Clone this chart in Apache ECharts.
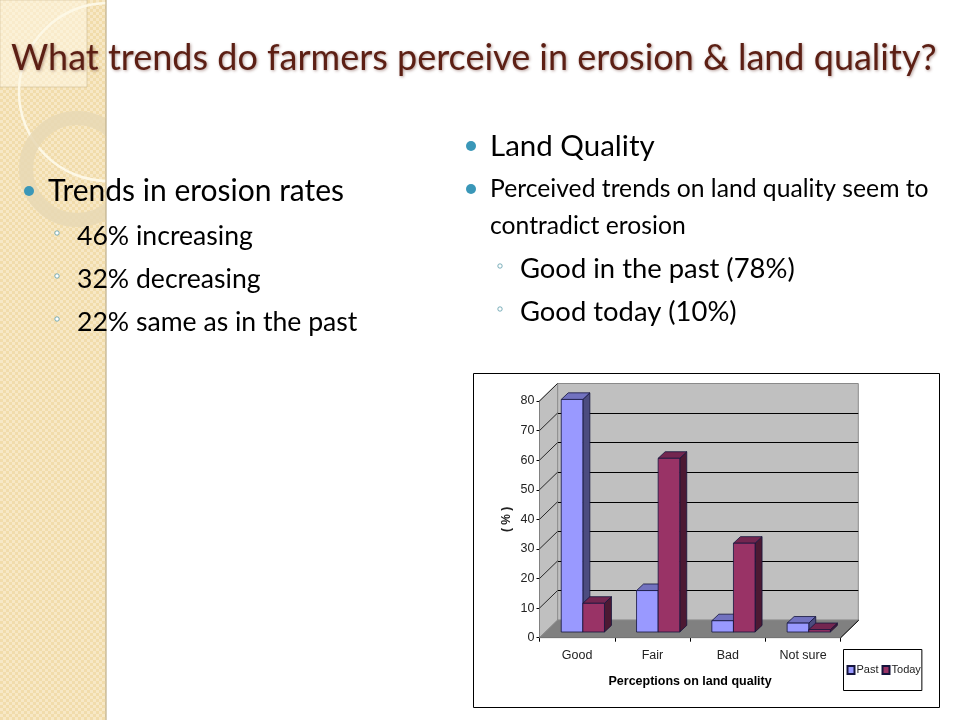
<!DOCTYPE html>
<html><head><meta charset="utf-8">
<style>html,body{margin:0;padding:0;background:#fff}#c{width:960px;height:720px}</style>
<script src="https://cdn.jsdelivr.net/npm/echarts@6/dist/echarts.min.js"></script>
</head><body><div id="c"></div>
<script>
const categories = ['Good','Fair','Bad','Not sure'];
const past = [78.6,14,3.8,3];
const today = [9.7,58.7,30,0.8];
const yTicks = [0,10,20,30,40,50,60,70,80];
const titleText = 'What trends do farmers perceive in erosion & land quality?';
const leftHead = 'Trends in erosion rates';
const leftItems = ['46% increasing','32% decreasing','22% same as in the past'];
const rightHead = 'Land Quality';
const rightPara = ['Perceived trends on land quality seem to','contradict erosion'];
const rightItems = ['Good in the past (78%)','Good today (10%)'];

const chart = echarts.init(document.getElementById('c'));
const FONT = 'Lato';
const SANS = '"Liberation Sans"';
const DX = 18, DY = 17.5;      // wall depth
const BX = 5.7, BY = 5.7;      // bar plane offset
const DEPX = 7, DEPY = 6.6;    // bar depth

function mk(){const c=document.createElement('canvas');c.width=c.height=6;const g=c.getContext('2d');
 g.fillStyle='#f1dcab';g.fillRect(0,0,6,6);g.fillStyle='#f7e8c6';g.fillRect(0,0,3,3);g.fillRect(3,3,3,3);return c;}

function txt(x,y,t,size,color,extra){return {type:'text',z:100,x:x,y:y,style:Object.assign({text:t,font:size+'px '+FONT,fill:color||'#000',textVerticalAlign:'middle',textBaseline:'middle'},extra||{})};}
function dot(x,y){return {type:'circle',z:100,shape:{cx:x,cy:y,r:5},style:{fill:'#3a97b8'}};}
function ring(x,y){return {type:'circle',z:100,shape:{cx:x,cy:y,r:2.2},style:{fill:'#fff',stroke:'#5a9aa8',lineWidth:0.8}};}

const graphics = [
 {type:'rect',z:-20,shape:{x:0,y:0,width:106,height:720},style:{fill:{image:mk(),repeat:'repeat'}}},
 {type:'rect',z:-19,shape:{x:0,y:0,width:87,height:87},style:{fill:'rgba(255,248,230,0.55)',stroke:'rgba(200,180,140,0.5)',lineWidth:1}},
 {type:'circle',z:-18,shape:{cx:108,cy:92,r:89},style:{fill:'none',stroke:'#fdf8e6',lineWidth:2.5}},
 {type:'circle',z:-18,shape:{cx:77,cy:169,r:51},style:{fill:'none',stroke:'rgba(232,216,180,0.85)',lineWidth:14}},
 {type:'rect',z:-17,shape:{x:106,y:0,width:854,height:720},style:{fill:'#fff'}},
 {type:'rect',z:-16,shape:{x:105,y:0,width:2,height:720},style:{fill:'rgba(190,175,140,0.6)'}},
 {type:'rect',z:-15,shape:{x:473.5,y:373.5,width:466,height:334},style:{fill:'#fff',stroke:'#000',lineWidth:1}},
 txt(11,58,titleText,36,'#5c1f14',{textShadowColor:'rgba(90,40,30,0.45)',textShadowBlur:3,textShadowOffsetX:1,textShadowOffsetY:1}),
 dot(29,191), txt(48,191,leftHead,30),
 dot(471,146), txt(490,146,rightHead,29.5),
 dot(471,189), txt(490,189,rightPara[0],24.7), txt(490,226,rightPara[1],24.7)
];
leftItems.forEach((t,i)=>{const y=236+i*43;graphics.push(ring(57,y-3),txt(77,y,t,26.6));});
rightItems.forEach((t,i)=>{const y=269+i*43;graphics.push(ring(500,y-3),txt(520,y,t,27.4));});

function poly(points,fill,stroke,lw){return {type:'polygon',shape:{points:points},style:{fill:fill,stroke:stroke||fill,lineWidth:lw===undefined?0.8:lw}};}

function barRender(idx,front,topC,sideC){
 return function(params,api){
  const c0=api.coord([api.value(0),0]);
  const c1=api.coord([api.value(0),api.value(1)]);
  const band=api.size([1,0])[0];
  const w=band*0.287;
  const x0=c0[0]+BX+(idx===0?-w:0), x1=x0+w;
  const yb=c0[1]-BY, yt=c1[1]-BY;
  const edge='#14143c';
  return {type:'group',children:[
   poly([[x1,yb],[x1+DEPX,yb-DEPY],[x1+DEPX,yt-DEPY],[x1,yt]],sideC,edge),
   poly([[x0,yt],[x0+DEPX,yt-DEPY],[x1+DEPX,yt-DEPY],[x1,yt]],topC,edge),
   poly([[x0,yb],[x1,yb],[x1,yt],[x0,yt]],front,edge)
  ]};
 };
}
function wallRender(params,api){
 const a=api.coord([0,0]), b=api.coord([categories.length-1,0]), t=api.coord([0,80]);
 const band=api.size([1,0])[0];
 const xl=a[0]-band/2, xr=b[0]+band/2, yb=a[1], yt=t[1];
 return {type:'group',children:[
  poly([[xl,yb],[xl+DX,yb-DY],[xl+DX,yt-DY],[xl,yt]],'#c0c0c0','#8a8a8a'),
  poly([[xl,yb],[xr,yb],[xr+DX,yb-DY],[xl+DX,yb-DY]],'#808080','#808080'),
  {type:'line',shape:{x1:xr,y1:yb,x2:xr+DX,y2:yb-DY},style:{stroke:'#000',lineWidth:1}}
 ]};
}
function tickRender(params,api){
 const p=api.coord([0,api.value(1)]);
 const x=p[0]-api.size([1,0])[0]/2;
 return {type:'line',shape:{x1:x,y1:p[1],x2:x+DX,y2:p[1]-DY},style:{stroke:'#000',lineWidth:0.8}};
}

chart.setOption({
 animation:false,
 backgroundColor:'transparent',
 graphic:{elements:graphics},
 grid:[
  {left:539.5,top:401,width:301.2,height:236.7,containLabel:false},
  {left:557.7,top:383.5,width:300.6,height:236.7,show:true,backgroundColor:'#c0c0c0',borderColor:'#8a8a8a',borderWidth:1}
 ],
 legend:{left:843.5,top:649.5,padding:[15,1,15,3],itemGap:3,itemWidth:7,itemHeight:8,
  data:['Past','Today'],icon:'rect',borderColor:'#000',borderWidth:1,backgroundColor:'#fff',
  textStyle:{fontFamily:SANS,fontSize:11,color:'#222',padding:[0,0,0,-3]}},
 xAxis:[
  {type:'category',gridIndex:0,data:categories,boundaryGap:true,
   axisLine:{show:true,lineStyle:{color:'#000',width:1}},
   axisTick:{show:true,length:4,lineStyle:{color:'#000'},alignWithLabel:false},
   axisLabel:{fontFamily:SANS,fontSize:12.5,color:'#222',margin:11},
   name:'Perceptions on land quality',nameLocation:'middle',nameGap:37,
   nameTextStyle:{fontFamily:SANS,fontWeight:'bold',fontSize:12.5,color:'#000'}},
  {type:'category',gridIndex:1,data:categories,show:false}
 ],
 yAxis:[
  {type:'value',gridIndex:0,min:0,max:80,interval:10,
   axisLine:{show:true,lineStyle:{color:'#000',width:1}},
   axisTick:{show:true,length:3,inside:false,lineStyle:{color:'#000'}},
   axisLabel:{fontFamily:SANS,fontSize:12.5,color:'#222',margin:5,formatter:function(v){return yTicks.indexOf(v)>=0?String(v):'';}},
   splitLine:{show:false},
   name:'( % )',nameLocation:'middle',nameGap:27,nameRotate:90,
   nameTextStyle:{fontFamily:SANS,fontWeight:'bold',fontSize:12,color:'#222'}},
  {type:'value',gridIndex:1,min:0,max:80,interval:10,
   axisLine:{show:false},axisTick:{show:false},axisLabel:{show:false},
   splitLine:{show:true,showMinLine:false,showMaxLine:false,lineStyle:{color:'#000',width:1}}}
 ],
 series:[
  {type:'custom',name:'walls',xAxisIndex:0,yAxisIndex:0,z:1,silent:true,clip:false,renderItem:wallRender,data:[[0,0]]},
  {type:'custom',name:'ticks',xAxisIndex:0,yAxisIndex:0,z:2,silent:true,clip:false,renderItem:tickRender,
   data:yTicks.slice(1).map(v=>[0,v])},
  {type:'custom',name:'Past',xAxisIndex:0,yAxisIndex:0,z:5,clip:false,itemStyle:{color:'#9999ff',borderColor:'#14143c',borderWidth:1},
   renderItem:barRender(0,'#9999ff','#7272bf','#4c4c7f'),encode:{x:0,y:1},data:past.map((v,i)=>[i,v])},
  {type:'custom',name:'Today',xAxisIndex:0,yAxisIndex:0,z:6,clip:false,itemStyle:{color:'#993366',borderColor:'#14143c',borderWidth:1},
   renderItem:barRender(1,'#993366','#732650','#4c1933'),encode:{x:0,y:1},data:today.map((v,i)=>[i,v])}
 ]
});
</script></body></html>
